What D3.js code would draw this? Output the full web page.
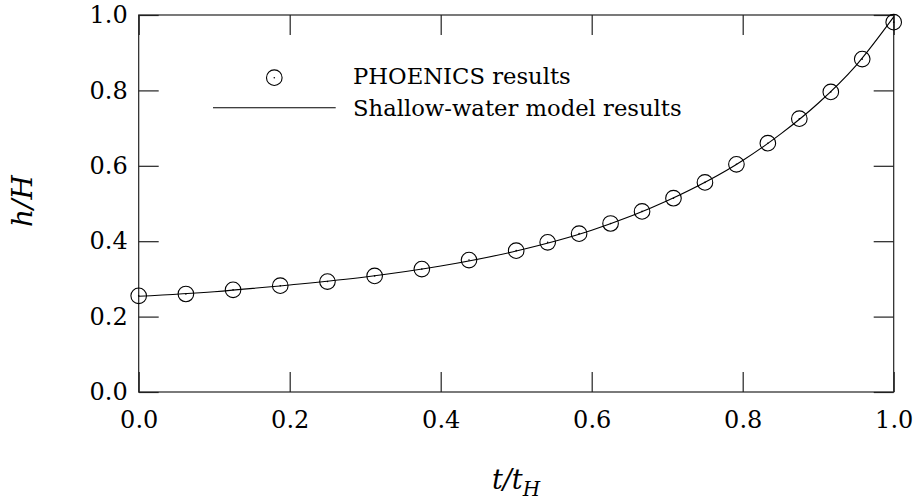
<!DOCTYPE html>
<html><head><meta charset="utf-8">
<script src="https://cdn.jsdelivr.net/npm/d3@7"></script>
<style>body{margin:0;background:#fff}svg{display:block}</style>
</head><body>
<script>
// PHOENICS results (t/tH, h/H)
const pointT = [0, 0.0625, 0.125, 0.1875, 0.25, 0.3125, 0.375, 0.4375, 0.5, 0.5417, 0.5833, 0.625, 0.6667, 0.7083, 0.75, 0.7917, 0.8333, 0.875, 0.9167, 0.9583, 1.0];
const pointH = [0.255, 0.260, 0.271, 0.282, 0.293, 0.308, 0.326, 0.350, 0.375, 0.397, 0.420, 0.447, 0.479, 0.514, 0.556, 0.604, 0.660, 0.725, 0.796, 0.883, 0.981];
// Shallow-water model results
const lineT = [0, 0.1, 0.2, 0.3, 0.4, 0.5, 0.6, 0.7, 0.8, 0.85, 0.9, 0.95, 1.0];
const lineH = [0.254, 0.266, 0.284, 0.305, 0.334, 0.374, 0.429, 0.507, 0.614, 0.684, 0.766, 0.866, 0.995];
const tickVals = [0, 0.2, 0.4, 0.6, 0.8, 1.0];
const legendLabels = ["PHOENICS results", "Shallow-water model results"];

const W = 916, H = 502;
const m = {left: 138.7, right: 916 - 893.7, top: 15, bottom: 502 - 392};
const svg = d3.select("body").append("svg").attr("width", W).attr("height", H);
const x = d3.scaleLinear().domain([0, 1]).range([m.left, W - m.right]);
const y = d3.scaleLinear().domain([0, 1]).range([H - m.bottom, m.top]);
const font = "DejaVu Serif";
const fs = 24;
const tickLen = 20;
const fmt = d3.format(".1f");

const axisCol = "#222";
function styleAxis(g, showLabels) {
  g.select(".domain").remove();
  g.selectAll(".tick line").attr("stroke", axisCol).attr("stroke-width", 1.2);
  g.selectAll("text").attr("font-family", font).attr("font-size", fs).attr("fill", "#000");
  if (!showLabels) g.selectAll("text").remove();
}
// bottom
svg.append("g").attr("transform", `translate(0,${y(0)})`)
  .call(d3.axisBottom(x).tickValues(tickVals).tickFormat(fmt).tickSizeInner(-tickLen).tickSizeOuter(0).tickPadding(19))
  .call(g => styleAxis(g, true));
// top
svg.append("g").attr("transform", `translate(0,${y(1)})`)
  .call(d3.axisTop(x).tickValues(tickVals).tickSizeInner(-tickLen).tickSizeOuter(0))
  .call(g => styleAxis(g, false));
// left
svg.append("g").attr("transform", `translate(${x(0)},0)`)
  .call(d3.axisLeft(y).tickValues(tickVals).tickFormat(fmt).tickSizeInner(-tickLen).tickSizeOuter(0).tickPadding(11))
  .call(g => styleAxis(g, true));
// right
svg.append("g").attr("transform", `translate(${x(1)},0)`)
  .call(d3.axisRight(y).tickValues(tickVals).tickSizeInner(-tickLen).tickSizeOuter(0))
  .call(g => styleAxis(g, false));

// frame
svg.append("rect").attr("x", x(0)).attr("y", y(1)).attr("width", x(1) - x(0)).attr("height", y(0) - y(1))
  .attr("fill", "none").attr("stroke", axisCol).attr("stroke-width", 1.2);

// line
const lineData = lineT.map((t, i) => [t, lineH[i]]);
svg.append("path").datum(lineData)
  .attr("d", d3.line().x(d => x(d[0])).y(d => y(d[1])).curve(d3.curveMonotoneX))
  .attr("fill", "none").attr("stroke", "#000").attr("stroke-width", 1.1);

// points
const pts = pointT.map((t, i) => [t, pointH[i]]);
const pg = svg.append("g").selectAll("g").data(pts).join("g")
  .attr("transform", d => `translate(${x(d[0])},${y(d[1])})`);
pg.append("circle").attr("r", 7.8).attr("fill", "none").attr("stroke", "#000").attr("stroke-width", 1.1);
pg.append("circle").attr("r", 0.8).attr("fill", "#000");

// legend
const lg = svg.append("g");
lg.append("circle").attr("cx", 274.3).attr("cy", 77.7).attr("r", 7.8).attr("fill", "none").attr("stroke", "#000").attr("stroke-width", 1.1);
lg.append("circle").attr("cx", 274.3).attr("cy", 77.7).attr("r", 0.8).attr("fill", "#000");
lg.append("line").attr("x1", 213).attr("x2", 335.7).attr("y1", 107.7).attr("y2", 107.7).attr("stroke", "#000").attr("stroke-width", 1.1);
lg.selectAll("text").data(legendLabels).join("text")
  .attr("x", 353).attr("y", (d, i) => 84 + i * 31.5)
  .attr("font-family", font).attr("font-size", 22.7).text(d => d);

// axis titles
const yl = svg.append("text").attr("transform", `translate(32,201) rotate(-90)`)
  .attr("text-anchor", "middle").attr("font-family", font).attr("font-size", 28).attr("font-style", "italic");
yl.append("tspan").text("h/H");

const xl = svg.append("text").attr("x", 516).attr("y", 489)
  .attr("text-anchor", "middle").attr("font-family", font).attr("font-size", 27).attr("font-style", "italic");
xl.append("tspan").text("t/t");
xl.append("tspan").attr("dy", 7).attr("font-size", 20).text("H");
</script>
</body></html>
